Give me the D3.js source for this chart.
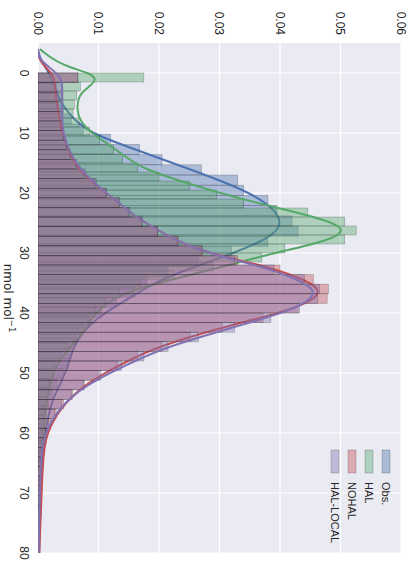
<!DOCTYPE html>
<html><head><meta charset="utf-8">
<script src="https://cdn.jsdelivr.net/npm/d3@7"></script>
<style>body{margin:0;background:#fff}</style>
</head><body><svg id="c" width="415" height="563"></svg>
<script>
// ---- data ----
const seriesNames = ["Obs.", "HAL", "NOHAL", "HAL-LOCAL"];
const concTicks = [0, 10, 20, 30, 40, 50, 60, 70, 80];
const densTicks = [0.00, 0.01, 0.02, 0.03, 0.04, 0.05, 0.06];
const axisLabel = "nmol mol";

// histogram bins: first edge and width (nmol mol-1)
const obsBinStart = 0, obsBinWidth = 1.7;
const halBinStart = 0, halBinWidth = 1.5;
const modelBinStart = 0, modelBinWidth = 1.6;

const obsHist = [0.0022,0.0028,0.0034,0.0042,0.0055,0.0075,0.0120,0.0168,0.0205,0.0270,
  0.0330,0.0340,0.0380,0.0395,0.0420,0.0430,0.0380,0.0320,0.0265,0.0215,
  0.0180,0.0160,0.0130,0.0105,0.0085,0.0070,0.0060,0.0055,0.0050,0.0042,
  0.0032,0.0024,0.0018,0.0013,0.0010,0.0008,0.0006,0.0005,0.0004,0.0003,0.0003];
const halHist = [0.0175,0.0070,0.0064,0.0060,0.0058,0.0068,0.0085,0.0102,0.0125,0.0140,
  0.0165,0.0200,0.0250,0.0295,0.0340,0.0446,0.0507,0.0526,0.0507,0.0408,
  0.0370,0.0290,0.0225,0.0170,0.0135,0.0112,0.0095,0.0085,0.0075,0.0062,
  0.0050,0.0038,0.0028,0.0022,0.0018,0.0015,0.0012,0.0010,0.0008,0.0006,
  0.0005,0.0004,0.0003,0.0002];
const nohalHist = [0.0066,0.0030,0.0031,0.0033,0.0036,0.0038,0.0041,0.0046,0.0052,0.0062,
  0.0075,0.0094,0.0112,0.0134,0.0150,0.0172,0.0198,0.0232,0.0272,0.0330,
  0.0400,0.0455,0.0480,0.0478,0.0430,0.0372,0.0305,0.0252,0.0205,0.0165,
  0.0132,0.0100,0.0076,0.0057,0.0042,0.0030,0.0021,0.0015,0.0011,0.0009,
  0.0008,0.0007,0.0006,0.0006,0.0005,0.0005,0.0004,0.0004,0.0003,0.0003];
const localHist = [0.0066,0.0040,0.0041,0.0040,0.0040,0.0040,0.0042,0.0047,0.0054,0.0064,
  0.0078,0.0096,0.0113,0.0135,0.0152,0.0172,0.0197,0.0230,0.0270,0.0325,
  0.0390,0.0440,0.0465,0.0462,0.0432,0.0385,0.0325,0.0265,0.0215,0.0175,
  0.0138,0.0104,0.0076,0.0055,0.0039,0.0027,0.0018,0.0012,0.0009,0.0007,
  0.0005,0.0004,0.0003,0.0003,0.0002,0.0002,0.0002,0.0001,0.0001,0.0001];

// KDE curves read at these concentrations
const kdeGrid = [-4,-3,-2,-1,0,1,2,3,4,6,8,10,12,14,16,18,20,22,24,26,28,30,32,34,36,38,40,42,44,46,48,50,52,54,56,58,60,62,65,70,75,80];
const obsKde = [0.0000,0.0002,0.0006,0.0012,0.0018,0.0022,0.0027,0.0030,0.0034,0.0045,0.0062,0.0088,0.0140,0.0195,0.0250,0.0303,0.0350,0.0382,0.0400,0.0400,
  0.0372,0.0323,0.0268,0.0213,0.0175,0.0143,0.0110,0.0085,0.0068,0.0058,0.0052,0.0045,0.0036,0.0026,0.0020,0.0015,0.0012,0.0010,0.0007,0.0005,0.0003,0.0002];
const halKde = [0.0003,0.0015,0.0030,0.0050,0.0085,0.0097,0.0088,0.0075,0.0067,0.0064,0.0069,0.0088,0.0118,0.0145,0.0175,0.0235,0.0300,0.0375,0.0460,0.0515,
  0.0480,0.0390,0.0316,0.0238,0.0160,0.0117,0.0095,0.0083,0.0068,0.0050,0.0035,0.0025,0.0020,0.0016,0.0013,0.0011,0.0009,0.0007,0.0005,0.0002,0.0001,0.0000];
const nohalKde = [0.0000,0.0000,0.0004,0.0012,0.0022,0.0027,0.0028,0.0029,0.0030,0.0033,0.0036,0.0041,0.0047,0.0055,0.0067,0.0088,0.0112,0.0138,0.0162,0.0195,
  0.0230,0.0280,0.0370,0.0430,0.0470,0.0455,0.0400,0.0320,0.0250,0.0190,0.0148,0.0110,0.0078,0.0055,0.0038,0.0025,0.0016,0.0011,0.0008,0.0006,0.0004,0.0002];
const localKde = [0.0000,0.0000,0.0006,0.0018,0.0030,0.0038,0.0040,0.0040,0.0040,0.0040,0.0040,0.0042,0.0048,0.0057,0.0070,0.0090,0.0113,0.0138,0.0162,0.0195,
  0.0230,0.0280,0.0360,0.0420,0.0460,0.0450,0.0405,0.0335,0.0268,0.0205,0.0160,0.0118,0.0082,0.0055,0.0036,0.0022,0.0013,0.0008,0.0005,0.0003,0.0002,0.0001];

// ---- drawing ----
const colors = ["#4C72B0", "#55A868", "#C44E52", "#8172B2"];
const svg = d3.select("#c");
const plot = {left: 38, right: 401, top: 43, bottom: 553};
// concentration runs downward, density runs rightward (figure rotated 90° clockwise)
const yConc = d3.scaleLinear().domain([-5, 80]).range([plot.top, plot.bottom]);
const xDens = d3.scaleLinear().domain([0, 0.06]).range([plot.left, plot.right]);

svg.append("rect").attr("x", plot.left).attr("y", plot.top)
  .attr("width", plot.right - plot.left).attr("height", plot.bottom - plot.top)
  .attr("fill", "#EAEAF2");

const grid = svg.append("g");
grid.selectAll("line.v").data(densTicks).enter().append("line")
  .attr("x1", d => xDens(d)).attr("x2", d => xDens(d))
  .attr("y1", plot.top).attr("y2", plot.bottom)
  .attr("stroke", "#fff").attr("stroke-width", 1.2);
grid.selectAll("line.h").data(concTicks).enter().append("line")
  .attr("y1", d => yConc(d)).attr("y2", d => yConc(d))
  .attr("x1", plot.left).attr("x2", plot.right)
  .attr("stroke", "#fff").attr("stroke-width", 1.2);

svg.append("clipPath").attr("id", "clip").append("rect")
  .attr("x", plot.left).attr("y", plot.top)
  .attr("width", plot.right - plot.left).attr("height", plot.bottom - plot.top);
const body = svg.append("g").attr("clip-path", "url(#clip)");

const hists = [
  {vals: obsHist, start: obsBinStart, w: obsBinWidth},
  {vals: halHist, start: halBinStart, w: halBinWidth},
  {vals: nohalHist, start: modelBinStart, w: modelBinWidth},
  {vals: localHist, start: modelBinStart, w: modelBinWidth}
];
const kdes = [obsKde, halKde, nohalKde, localKde];

const line = d3.line().curve(d3.curveBasis)
  .x(d => xDens(d[1])).y(d => yConc(d[0]));

hists.forEach((h, s) => {
  body.append("g").selectAll("rect").data(h.vals).enter().append("rect")
    .attr("x", xDens(0))
    .attr("y", (d, i) => yConc(h.start + i * h.w))
    .attr("height", (d, i) => yConc(h.start + (i + 1) * h.w) - yConc(h.start + i * h.w))
    .attr("width", d => xDens(d) - xDens(0))
    .attr("fill", colors[s]).attr("fill-opacity", 0.4)
    .attr("stroke", "#000").attr("stroke-opacity", 0.3).attr("stroke-width", 0.6);
  body.append("path").datum(kdeGrid.map((g, i) => [g, kdes[s][i]]))
    .attr("d", line).attr("fill", "none")
    .attr("stroke", colors[s]).attr("stroke-width", 2);
});

// density tick labels (top)
const font = "'Liberation Sans', Arial, sans-serif";
svg.append("g").selectAll("text").data(densTicks).enter().append("text")
  .attr("transform", d => `translate(${xDens(d)},35) rotate(90)`)
  .attr("text-anchor", "end").attr("dy", "0.35em")
  .attr("font-family", font).attr("font-size", 12).attr("fill", "#262626")
  .text(d => d3.format(".2f")(d));

// concentration tick labels (left)
svg.append("g").selectAll("text").data(concTicks).enter().append("text")
  .attr("transform", d => `translate(20,${yConc(d)}) rotate(90)`)
  .attr("text-anchor", "middle")
  .attr("font-family", font).attr("font-size", 12).attr("fill", "#262626")
  .text(d => d);

// axis label
const lab = svg.append("text")
  .attr("transform", `translate(4,${(plot.top + plot.bottom) / 2}) rotate(90)`)
  .attr("text-anchor", "middle")
  .attr("font-family", "'DejaVu Sans', sans-serif").attr("font-size", 12).attr("fill", "#262626");
lab.append("tspan").text(axisLabel);
lab.append("tspan").attr("dy", -5).attr("font-size", 8.5).text("\u22121");

// legend
const leg = svg.append("g");
seriesNames.forEach((name, i) => {
  const x = 382 - i * 17;
  leg.append("rect").attr("x", x).attr("y", 450).attr("width", 8).attr("height", 23)
    .attr("fill", colors[i]).attr("fill-opacity", 0.4)
    .attr("stroke", "#000").attr("stroke-opacity", 0.3).attr("stroke-width", 0.6);
  leg.append("text").attr("transform", `translate(${x + 4},482) rotate(90)`)
    .attr("dy", "0.35em").attr("font-family", font).attr("font-size", 11).attr("fill", "#262626")
    .text(name);
});
</script></body></html>
